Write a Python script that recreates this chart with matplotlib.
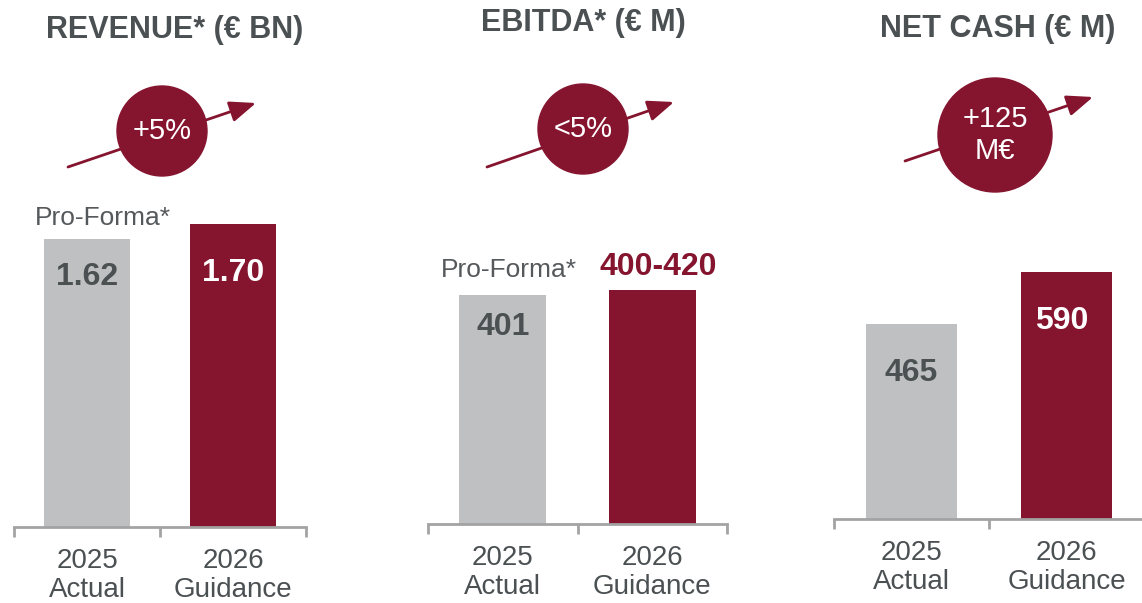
import numpy as np
import matplotlib
matplotlib.use("Agg")
from matplotlib import pyplot as plt
from matplotlib.patches import Circle

plt.rcParams['font.family'] = ['Liberation Sans', 'DejaVu Sans']

# --- data ---
categories = ['2025\nActual', '2026\nGuidance']
titles = ['REVENUE* (€ BN)', 'EBITDA* (€ M)', 'NET CASH (€ M)']

revenue = [1.62, 1.70]
ebitda_actual = 401
ebitda_guidance = (400, 420)
ebitda = [ebitda_actual, np.mean(ebitda_guidance)]
net_cash = [465, 590]

revenue_labels = ['1.62', '1.70']
ebitda_labels = ['401', '400-420']
net_cash_labels = ['465', '590']

growth_labels = ['+5%', '<5%', '+125\nM€']

GREY = '#bfc0c2'
RED = '#85142f'
TEXT = '#4b5053'
AXIS = '#a3a3a3'

W, H = 1142, 603
fig = plt.figure(figsize=(W / 100, H / 100), dpi=100)


def px_axes(left, right, top, bottom):
    return fig.add_axes([left / W, 1 - bottom / H, (right - left) / W, (bottom - top) / H])


def bar_panel(left, right, baseline, px_per_unit, values):
    ax = px_axes(left, right, 0, baseline)
    ax.set_xlim(-0.5, 1.5)
    ax.set_ylim(0, baseline / px_per_unit)
    ax.bar([0, 1], values, width=0.585, color=[GREY, RED], zorder=2)
    for s in ['top', 'left', 'right']:
        ax.spines[s].set_visible(False)
    ax.spines['bottom'].set_color(AXIS)
    ax.spines['bottom'].set_linewidth(2)
    ax.set_yticks([])
    ax.set_xticks([-0.5, 0.5, 1.5])
    ax.set_xticklabels([])
    ax.tick_params(axis='x', length=7, width=2, color=AXIS, direction='out')
    ax.patch.set_alpha(0)
    for i, cat in enumerate(categories):
        ax.annotate(cat, (i, 0), xytext=(0, -21), textcoords='offset pixels',
                    ha='center', va='top', fontsize=20, color=TEXT, linespacing=1.15,
                    annotation_clip=False)
    return ax


def value_label(ax, i, value, text, dy, color, dx=0, weight='bold', size=23):
    ax.annotate(text, (i, value), xytext=(dx, dy), textcoords='offset pixels',
                ha='center', va='center', fontsize=size, fontweight=weight, color=color,
                annotation_clip=False)


# revenue
ax1 = bar_panel(14, 306, 527, 178, revenue)
value_label(ax1, 0, revenue[0], revenue_labels[0], -38, TEXT)
value_label(ax1, 1, revenue[1], revenue_labels[1], -49, 'white')
value_label(ax1, 0, revenue[0], 'Pro-Forma*', 21, '#55595c', dx=16, weight='normal', size=19)

# ebitda
ax2 = bar_panel(428, 727, 524, 0.571, ebitda)
value_label(ax2, 0, ebitda[0], ebitda_labels[0], -32, TEXT)
value_label(ax2, 1, ebitda[1], ebitda_labels[1], 23, RED, dx=6)
value_label(ax2, 0, ebitda[0], 'Pro-Forma*', 25, '#55595c', dx=6, weight='normal', size=19)

# net cash
ax3 = bar_panel(834, 1144, 519, 0.419, net_cash)
value_label(ax3, 0, net_cash[0], net_cash_labels[0], -49, TEXT)
value_label(ax3, 1, net_cash[1], net_cash_labels[1], -49, 'white', dx=-5)

# overlay in pixel coordinates for titles and growth badges
ov = fig.add_axes([0, 0, 1, 1])
ov.set_xlim(0, W)
ov.set_ylim(H, 0)
ov.axis('off')
ov.patch.set_alpha(0)

title_pos = [(175, 30), (583, 23), (998, 29)]
for t, (x, y) in zip(titles, title_pos):
    ov.text(x, y, t, ha='center', va='center', fontsize=22, fontweight='bold', color=TEXT)

badges = [
    # circle centre, radius, arrow start, arrow end
    ((162, 131), 45, (68, 167), (256, 103)),
    ((583, 129), 45, (487, 167), (674, 102)),
    ((995, 135), 57, (905, 161), (1093, 97)),
]
for (c, r, a0, a1), lab in zip(badges, growth_labels):
    ov.annotate('', xy=a1, xytext=a0,
                arrowprops=dict(arrowstyle='-|>,head_length=0.8,head_width=0.32',
                                color=RED, lw=2, shrinkA=0, shrinkB=0,
                                mutation_scale=20))
    ov.add_patch(Circle(c, r, color=RED, zorder=3))
    ov.text(c[0], c[1], lab, ha='center', va='center', fontsize=21, color='white',
            linespacing=1.15, zorder=4)

fig.savefig('out.png', dpi=100)
